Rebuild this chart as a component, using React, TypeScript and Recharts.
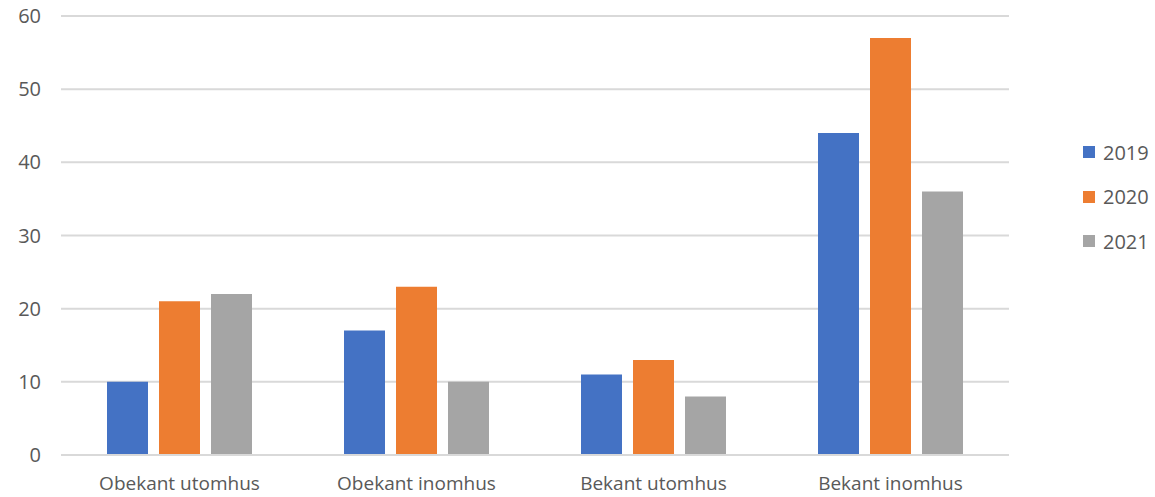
import { Bar, BarChart, CartesianGrid, Legend, XAxis, YAxis } from 'recharts'

const categories = ['Obekant utomhus', 'Obekant inomhus', 'Bekant utomhus', 'Bekant inomhus']
const values2019 = [10, 17, 11, 44]
const values2020 = [21, 23, 13, 57]
const values2021 = [22, 10, 8, 36]
const yTicks = [0, 10, 20, 30, 40, 50, 60]

const SERIES = [
  { key: '2019', color: '#4472C4' },
  { key: '2020', color: '#ED7D31' },
  { key: '2021', color: '#A5A5A5' },
]

const data = categories.map((name, i) => ({
  name,
  '2019': values2019[i],
  '2020': values2020[i],
  '2021': values2021[i],
}))

const FONT = '"Open Sans", "Noto Sans", sans-serif'

function SideLegend() {
  return (
    <div style={{ fontFamily: FONT, fontSize: 20, color: '#595959' }}>
      {SERIES.map((s) => (
        <div key={s.key} style={{ display: 'flex', alignItems: 'center', height: 44.5 }}>
          <span style={{ width: 12, height: 12, background: s.color, marginRight: 8, display: 'inline-block' }} />
          <span>{s.key}</span>
        </div>
      ))}
    </div>
  )
}

export default function App() {
  return (
    <div style={{ position: 'absolute', left: 0, top: 0, background: '#fff' }}>
      <BarChart
        width={1155}
        height={497}
        data={data}
        margin={{ top: 16, right: 66, bottom: 0, left: 0 }}
        barCategoryGap={45}
        barGap={11}
      >
        <CartesianGrid vertical={false} stroke="#d9d9d9" strokeWidth={2} />
        <XAxis
          dataKey="name"
          height={42}
          tickLine={false}
          axisLine={{ stroke: '#d9d9d9', strokeWidth: 2 }}
          tickMargin={16}
          tick={{ fill: '#595959', fontSize: 19, fontFamily: FONT }}
        />
        <YAxis
          width={61}
          domain={[0, 60]}
          ticks={yTicks}
          tickLine={false}
          axisLine={false}
          tickMargin={14}
          tick={{ fill: '#595959', fontSize: 20, fontFamily: FONT }}
        />
        <Legend
          layout="vertical"
          align="right"
          verticalAlign="top"
          content={() => <SideLegend />}
          wrapperStyle={{ left: 1083, top: 130, width: 80 }}
        />
        {SERIES.map((s) => (
          <Bar key={s.key} dataKey={s.key} fill={s.color} barSize={41} isAnimationActive={false} />
        ))}
      </BarChart>
    </div>
  )
}
